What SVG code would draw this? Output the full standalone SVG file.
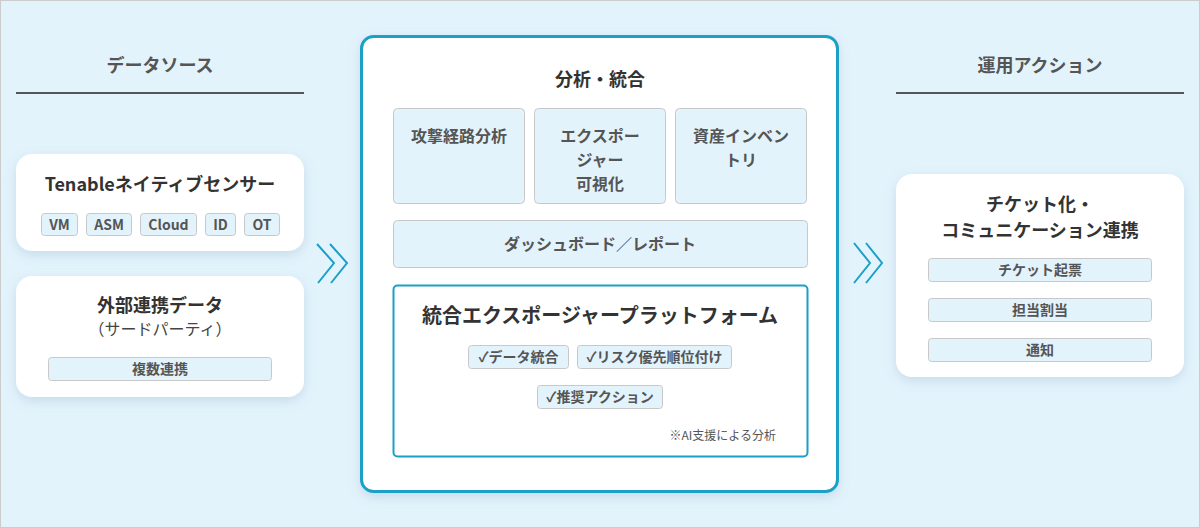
<svg xmlns="http://www.w3.org/2000/svg" width="1200" height="528" viewBox="0 0 1200 528">
<defs>
<filter id="sh" x="-20%" y="-20%" width="140%" height="150%">
<feDropShadow dx="0" dy="4" stdDeviation="6" flood-color="#5a8aa8" flood-opacity="0.22"/>
</filter>
<style>
text{font-family:"Noto Sans CJK JP","Noto Sans",sans-serif;text-anchor:middle}
.hd{font-size:18px;font-weight:700;fill:#555}
.ttl{font-size:18px;font-weight:700;fill:#333}
.sub{font-size:16px;fill:#444}
.tag{fill:#e3f3fc;stroke:#c8c8c8;stroke-width:1}
.tt{font-size:14px;font-weight:700;fill:#555}
.bt{font-size:16px;font-weight:700;fill:#555}
.ct{font-size:14px;font-weight:700;fill:#555}
.card{fill:#fff}
.chev{fill:none;stroke:#1aa0c8;stroke-width:2}
</style>
</defs>
<rect x="0.5" y="0.5" width="1199" height="527" fill="#e3f3fc" stroke="#cccccc"/>

<g id="hdr-left">
<text class="hd" x="160" y="72">データソース</text>
<line x1="16" y1="93" x2="304" y2="93" stroke="#555" stroke-width="2"/>
</g>
<g id="hdr-right">
<text class="hd" x="1040" y="72">運用アクション</text>
<line x1="896" y1="93" x2="1184" y2="93" stroke="#555" stroke-width="2"/>
</g>

<g id="tenable">
<rect class="card" x="16" y="154" width="288" height="97" rx="16" filter="url(#sh)"/>
<text class="ttl" x="160" y="191">Tenableネイティブセンサー</text>
<rect class="tag" x="41.5" y="213.5" width="36" height="22" rx="3"/>
<text class="tt" x="59.5" y="229.5">VM</text>
<rect class="tag" x="86.5" y="213.5" width="45" height="22" rx="3"/>
<text class="tt" x="109" y="229.5">ASM</text>
<rect class="tag" x="140.5" y="213.5" width="56" height="22" rx="3"/>
<text class="tt" x="168.5" y="229.5">Cloud</text>
<rect class="tag" x="205.5" y="213.5" width="30" height="22" rx="3"/>
<text class="tt" x="220.5" y="229.5">ID</text>
<rect class="tag" x="244.5" y="213.5" width="35" height="22" rx="3"/>
<text class="tt" x="262" y="229.5">OT</text>
</g>

<g id="external">
<rect class="card" x="16" y="276" width="288" height="121" rx="16" filter="url(#sh)"/>
<text class="ttl" x="160" y="312">外部連携データ</text>
<text class="sub" x="160" y="335">（サードパーティ）</text>
<rect class="tag" x="48.5" y="357.5" width="223" height="23" rx="3"/>
<text class="tt" x="160" y="374">複数連携</text>
</g>

<g id="connectors">
<polyline class="chev" points="317,244 334,263 318,283"/>
<polyline class="chev" points="330,244 347,263 331,283"/>
<polyline class="chev" points="854,243 870,263 854,283"/>
<polyline class="chev" points="866,243 882,263 866,283"/>
</g>

<g id="analysis">
<rect x="361.5" y="36.5" width="476" height="455" rx="12" fill="#fff" stroke="#1aa0c8" stroke-width="3" filter="url(#sh)"/>
<text class="ttl" x="600" y="86">分析・統合</text>
</g>

<g id="attack-path">
<rect class="tag" x="393.5" y="108.5" width="131" height="95" rx="4"/>
<text class="bt" x="459" y="142">攻撃経路分析</text>
</g>
<g id="exposure-vis">
<rect class="tag" x="534.5" y="108.5" width="131" height="95" rx="4"/>
<text class="bt" x="600" y="142">エクスポー</text>
<text class="bt" x="600" y="166">ジャー</text>
<text class="bt" x="600" y="190">可視化</text>
</g>
<g id="asset-inventory">
<rect class="tag" x="675.5" y="108.5" width="131" height="95" rx="4"/>
<text class="bt" x="741" y="142">資産インベン</text>
<text class="bt" x="741" y="166">トリ</text>
</g>
<g id="dashboard">
<rect class="tag" x="393.5" y="220.5" width="414" height="47" rx="4"/>
<text class="bt" x="600" y="250">ダッシュボード／レポート</text>
</g>

<g id="platform">
<rect x="393.5" y="285.5" width="414" height="171" rx="4" fill="#fff" stroke="#1aa0c8" stroke-width="2"/>
<text class="ttl" x="600" y="323" style="font-size:20px">統合エクスポージャープラットフォーム</text>
<rect class="tag" x="468.5" y="345.5" width="100" height="23" rx="3"/>
<text class="ct" x="518.5" y="362">✓データ統合</text>
<rect class="tag" x="577.5" y="345.5" width="154" height="23" rx="3"/>
<text class="ct" x="654.5" y="362">✓リスク優先順位付け</text>
<rect class="tag" x="537.5" y="385.5" width="125" height="23" rx="3"/>
<text class="ct" x="600" y="402">✓推奨アクション</text>
<text x="776" y="440" style="font-size:12px;fill:#555;text-anchor:end">※AI支援による分析</text>
</g>

<g id="ticketing">
<rect class="card" x="896" y="174" width="288" height="203" rx="16" filter="url(#sh)"/>
<text class="ttl" x="1040" y="211">チケット化・</text>
<text class="ttl" x="1040" y="237">コミュニケーション連携</text>
<rect class="tag" x="928.5" y="258.5" width="223" height="23" rx="3"/>
<text class="tt" x="1040" y="275">チケット起票</text>
<rect class="tag" x="928.5" y="298.5" width="223" height="23" rx="3"/>
<text class="tt" x="1040" y="315">担当割当</text>
<rect class="tag" x="928.5" y="338.5" width="223" height="23" rx="3"/>
<text class="tt" x="1040" y="355">通知</text>
</g>
</svg>
